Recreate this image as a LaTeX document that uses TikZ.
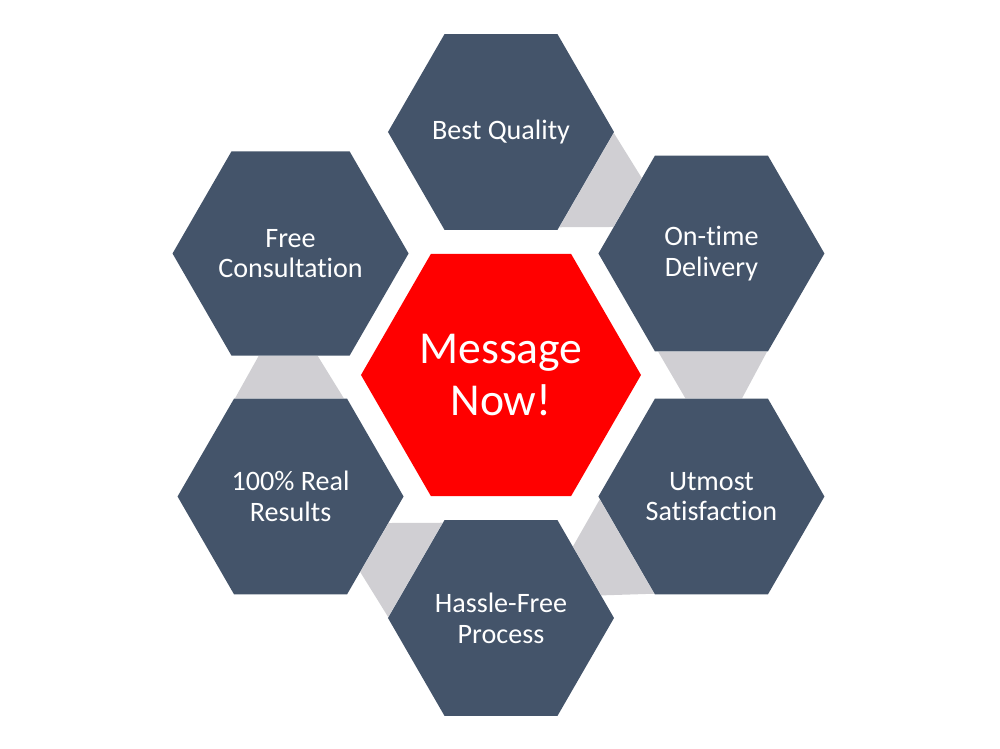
\documentclass[tikz,border=0pt]{standalone}
\usepackage{fontspec}
\setmainfont{Carlito}[Ligatures=NoCommon]
\usetikzlibrary{shapes.geometric}
\usetikzlibrary{calc}
\usetikzlibrary{backgrounds}
\definecolor{hexblue}{HTML}{44546A}
\definecolor{hexred}{HTML}{FF0000}
\definecolor{linkgray}{HTML}{D0CFD3}
\tikzset{
	hexa/.style={regular polygon, regular polygon sides=6, minimum size=4.52cm, inner sep=0pt, fill=hexblue, text=white, align=center, font=\fontsize{16}{17.5}\selectfont},
	mainhex/.style={hexa, minimum size=5.6cm, fill=hexred, font=\fontsize{26}{30}\selectfont},
	link/.style={fill=linkgray}
}
\begin{document}
\begin{tikzpicture}
			\useasboundingbox (-10.02,-7.48) rectangle (9.98,7.5);
			\node[mainhex] (msg) at (0,0) {Message\\Now!};
			\node[hexa] (bq) at (90:4.86) {Best Quality};
			\node[hexa] (od) at (30:4.86) {On-time\\Delivery};
			\node[hexa] (ut) at (-30:4.86) {Utmost\\Satisfaction};
			\node[hexa] (hf) at (-90:4.86) {Hassle-Free\\Process};
			\node[hexa] (rr) at (210:4.86) {100\% Real\\Results};
			\node[hexa] (fc) at (150:4.86) {Free\\Consultation};
			\begin{pgfonlayer}{background}
				\foreach \w/\n/\t in {bq/od/60, od/ut/0, ut/hf/-60, hf/rr/-120, rr/fc/180} {
					\pgfmathtruncatemacro\no{mod(\t+60+360,360)}
					\pgfmathtruncatemacro\ni{mod(\t+120+360,360)}
					\pgfmathtruncatemacro\wo{mod(\t-60+360,360)}
					\pgfmathtruncatemacro\wi{mod(\t-120+360,360)}
					\fill[link] ($(\n.\no)!0.23!(\n.\ni)$) -- ($(\n.\no)!0.73!(\n.\ni)$) -- ($(\w.\wo)!0.97!(\w.\wi)$) -- ($(\w.\wo)!0.01!(\w.\wi)$) -- cycle;
				}
			\end{pgfonlayer}
		\end{tikzpicture}
\end{document}
